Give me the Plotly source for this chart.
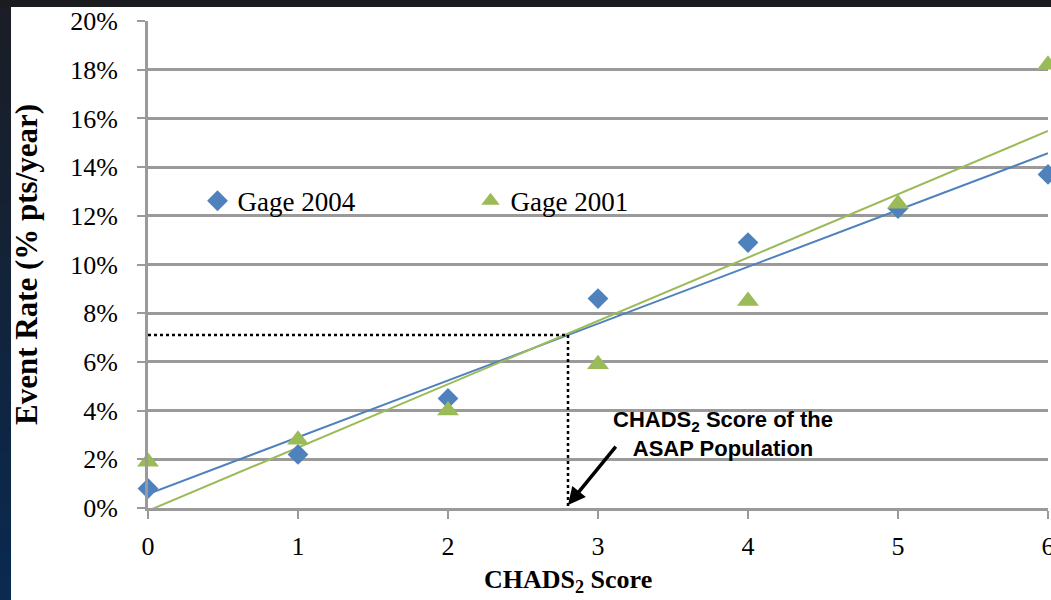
import numpy as np
import plotly.graph_objects as go

# CHADS2 score categories
scores = [0, 1, 2, 3, 4, 5, 6]
# Annual event rate (%) by score
gage_2004 = [0.8, 2.2, 4.5, 8.6, 10.9, 12.3, 13.7]
gage_2001 = [1.9, 2.8, 4.0, 5.9, 8.5, 12.5, 18.2]
y_ticks = [0, 2, 4, 6, 8, 10, 12, 14, 16, 18, 20]

# ASAP population reference point
asap_score = 2.8
asap_rate = 7.1

BLUE = "#4F81BD"
GREEN = "#9BBB59"
GRID = "#9a9a9a"
SERIF = "Liberation Serif, Times New Roman, serif"
SANS = "Liberation Sans, Arial, sans-serif"

fig = go.Figure()

# Linear trendlines over the full score range
x_fit = np.array([scores[0], scores[-1]], dtype=float)
for vals, col in [(gage_2004, BLUE), (gage_2001, GREEN)]:
    k, b = np.polyfit(scores, vals, 1)
    fig.add_trace(go.Scatter(x=x_fit, y=k * x_fit + b, mode="lines",
                             line=dict(color=col, width=2),
                             showlegend=False, hoverinfo="skip"))

# Dotted guide lines to the ASAP score
fig.add_trace(go.Scatter(x=[0, asap_score, asap_score], y=[asap_rate, asap_rate, 0],
                         mode="lines", line=dict(color="black", width=2.5, dash="dot"),
                         showlegend=False, hoverinfo="skip"))

fig.add_trace(go.Scatter(x=scores, y=gage_2004, mode="markers", name="Gage 2004",
                         marker=dict(symbol="diamond", size=16, color=BLUE),
                         cliponaxis=False))
fig.add_trace(go.Scatter(x=scores, y=gage_2001, mode="markers", name="Gage 2001",
                         marker=dict(symbol="triangle-up", size=19, color=GREEN),
                         cliponaxis=False))

# Page background: dark frame with a white chart panel
shapes = []
n = 24
for i in range(n):
    t = i / (n - 1)
    r = int(0x1b + (0x0a - 0x1b) * t)
    g = int(0x1e + (0x2a - 0x1e) * t)
    bl = int(0x26 + (0x50 - 0x26) * t)
    y1 = 1.03 - i * (1.03 + 0.19) / n
    y0 = 1.03 - (i + 1) * (1.03 + 0.19) / n
    shapes.append(dict(type="rect", xref="paper", yref="paper", x0=-0.17, x1=-0.152,
                       y0=y0 - 0.002, y1=y1, fillcolor=f"rgb({r},{g},{bl})",
                       line=dict(width=0), layer="below"))
shapes.append(dict(type="rect", xref="paper", yref="paper", x0=-0.17, x1=1.01,
                   y0=1.0287, y1=1.05, fillcolor="#1b1c20", line=dict(width=0), layer="below"))
shapes.append(dict(type="rect", xref="paper", yref="paper", x0=-0.1522, x1=1.01,
                   y0=-0.2, y1=1.0287, fillcolor="white", line=dict(width=0), layer="below"))

fig.update_layout(
    width=1051, height=600,
    margin=dict(l=148, r=3, t=21, b=92, autoexpand=False),
    paper_bgcolor="#1b1c20",
    plot_bgcolor="rgba(0,0,0,0)",
    shapes=shapes,
    font=dict(family=SERIF, size=26, color="black"),
    legend=dict(orientation="h", x=0.055, y=0.63, xanchor="left", yanchor="middle",
                entrywidth=228, entrywidthmode="pixels", bgcolor="rgba(0,0,0,0)",
                font=dict(family=SERIF, size=27, color="black"), itemsizing="trace"),
    xaxis=dict(range=[0, 6], tickmode="array", tickvals=scores, showgrid=False,
               showline=True, linecolor=GRID, linewidth=2.5, ticks="outside",
               ticklen=8, tickwidth=2, tickcolor=GRID, zeroline=False,
               tickfont=dict(family=SERIF, size=26), ticklabelstandoff=5,
               ticklabeloverflow="allow", automargin=False),
    yaxis=dict(range=[0, 20], tickmode="array", tickvals=y_ticks,
               ticktext=[f"{v}%" for v in y_ticks], showgrid=True, gridcolor=GRID,
               gridwidth=2.5, showline=True, linecolor=GRID, linewidth=3,
               ticks="outside", ticklen=8, tickwidth=2, tickcolor=GRID, zeroline=False,
               tickfont=dict(family=SERIF, size=26), ticklabelstandoff=14,
               ticklabeloverflow="allow", automargin=False),
    annotations=[
        dict(text="<b>Event Rate (% pts/year)</b>", xref="paper", yref="paper",
             x=-0.135, y=0.5, textangle=-90, showarrow=False,
             font=dict(family=SERIF, size=31), xanchor="center", yanchor="middle"),
        dict(text="<b>CHADS<sub>2</sub> Score</b>", xref="paper", yref="paper",
             x=0.4667, y=-0.15, showarrow=False, font=dict(family=SERIF, size=26),
             xanchor="center", yanchor="middle"),
        dict(text="<b>CHADS<sub>2</sub> Score of the<br>ASAP Population</b>",
             x=3.83, y=3.04, showarrow=False, font=dict(family=SANS, size=22),
             xanchor="center", yanchor="middle", align="center"),
        dict(text="", x=asap_score, y=0.12, ax=49, ay=-60, showarrow=True,
             arrowhead=2, arrowsize=1, arrowwidth=3.5, arrowcolor="black"),
    ],
)

fig.write_html("out.html")
